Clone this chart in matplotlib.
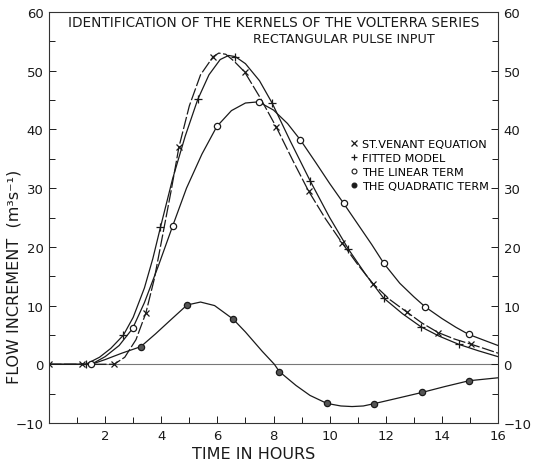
import matplotlib
matplotlib.use("Agg")
import matplotlib.pyplot as plt
from matplotlib.lines import Line2D
from matplotlib.ticker import MultipleLocator

# ---- marker data ----
sv_t = [0, 1.16, 2.32, 3.45, 4.63, 5.85, 6.97, 8.1, 9.25, 10.44, 11.55, 12.75, 13.87, 15.05]
sv_v = [0, 0, 0, 8.7, 37.0, 52.4, 49.8, 40.4, 29.5, 20.7, 13.7, 8.9, 5.4, 3.4]
fm_t = [1.31, 2.65, 3.97, 5.30, 6.64, 7.95, 9.30, 10.67, 11.92, 13.25, 14.6]
fm_v = [0, 4.95, 23.3, 45.1, 52.4, 44.5, 31.3, 19.6, 11.3, 6.4, 3.4]
lin_t = [1.51, 2.98, 4.41, 5.98, 7.47, 8.96, 10.50, 11.93, 13.40, 14.95]
lin_v = [0, 6.1, 23.6, 40.5, 44.7, 38.2, 27.4, 17.2, 9.8, 5.1]
q_t = [3.27, 4.92, 6.56, 8.21, 9.90, 11.59, 13.29, 14.97]
q_v = [3.0, 10.1, 7.7, -1.25, -6.66, -6.7, -4.8, -2.8]

# ---- curve traces ----
sv_ct = [0, 2.32, 2.7, 3.1, 3.45, 3.75, 4.05, 4.35, 4.63, 5.0, 5.4, 5.85, 6.05, 6.3, 6.6,
         6.97, 7.5, 8.1, 8.7, 9.25, 9.85, 10.44, 11.0, 11.55, 12.15, 12.75, 13.3, 13.87,
         14.45, 15.05, 15.5, 16]
sv_cv = [0, 0, 1.2, 4.2, 8.7, 14.5, 22.0, 29.5, 37.0, 44.0, 49.3, 52.4, 53.0, 52.8, 51.6,
         49.8, 45.6, 40.4, 34.6, 29.5, 24.8, 20.7, 17.0, 13.7, 11.0, 8.9, 7.0, 5.4,
         4.3, 3.4, 2.7, 1.9]
fm_ct = [0, 1.31, 1.8, 2.2, 2.65, 3.0, 3.4, 3.7, 3.97, 4.4, 4.85, 5.3, 5.7, 6.1, 6.4, 6.64,
         7.0, 7.5, 7.95, 8.6, 9.3, 10.0, 10.67, 11.3, 11.92, 12.6, 13.25, 13.9, 14.6, 15.3, 16]
fm_cv = [0, 0, 1.2, 2.7, 4.95, 8.0, 13.0, 18.0, 23.3, 31.5, 38.8, 45.1, 49.3, 51.9, 52.6, 52.4,
         51.2, 48.3, 44.5, 38.0, 31.3, 25.0, 19.6, 15.2, 11.3, 8.6, 6.4, 4.8, 3.4, 2.3, 1.3]
lin_ct = [0, 1.51, 2.0, 2.5, 2.98, 3.4, 3.9, 4.41, 4.9, 5.45, 5.98, 6.5, 7.0, 7.47, 8.0, 8.5,
          8.96, 9.5, 10.0, 10.5, 11.0, 11.5, 11.93, 12.5, 13.0, 13.4, 14.0, 14.5, 14.95, 15.5, 16]
lin_cv = [0, 0, 1.3, 3.2, 6.1, 10.5, 16.8, 23.6, 30.0, 35.8, 40.5, 43.2, 44.5, 44.7, 43.3, 41.0,
          38.2, 34.4, 30.8, 27.4, 23.9, 20.4, 17.2, 13.8, 11.5, 9.8, 7.8, 6.3, 5.1, 4.1, 3.2]
q_ct = [1.51, 2.0, 2.6, 3.27, 3.8, 4.3, 4.92, 5.4, 5.9, 6.56, 7.0, 7.6, 8.03, 8.21, 8.8, 9.3,
        9.9, 10.4, 10.8, 11.2, 11.59, 12.4, 13.29, 14.1, 14.97, 16]
q_cv = [0, 0.8, 1.9, 3.0, 5.2, 7.4, 10.1, 10.6, 10.0, 7.7, 5.5, 2.2, 0, -1.25, -3.6, -5.3,
        -6.66, -7.1, -7.2, -7.1, -6.7, -5.8, -4.8, -3.8, -2.8, -2.3]

x_ticks = [2, 4, 6, 8, 10, 12, 14, 16]
y_ticks = [-10, 0, 10, 20, 30, 40, 50, 60]

title1 = "IDENTIFICATION OF THE KERNELS OF THE VOLTERRA SERIES"
title2 = "RECTANGULAR PULSE INPUT"
legend_labels = ["ST.VENANT EQUATION", "FITTED MODEL", "THE LINEAR TERM", "THE QUADRATIC TERM"]

plt.rcParams['font.family'] = ['DejaVu Sans']
fig = plt.figure(figsize=(5.41, 4.64), dpi=100)
ax = fig.add_axes([49/541, 1-424/464, 449/541, 411/464])

ink = "#1a1a1a"
ax.axhline(0, color="#777777", lw=0.8, zorder=1)

ax.plot(sv_ct, sv_cv, color=ink, lw=0.9, ls=(0, (10, 2)))
ax.plot(fm_ct, fm_cv, color=ink, lw=0.9)
ax.plot(lin_ct, lin_cv, color=ink, lw=0.9)
ax.plot(q_ct, q_cv, color=ink, lw=0.9)

ax.plot(sv_t, sv_v, ls="none", marker="x", ms=4, mew=0.9, color=ink)
ax.plot(fm_t, fm_v, ls="none", marker="+", ms=6, mew=0.9, color=ink)
ax.plot(lin_t, lin_v, ls="none", marker="o", ms=4.5, mew=0.9, mfc="white", mec=ink)
ax.plot(q_t, q_v, ls="none", marker="o", ms=4.5, mew=0.9, mfc="#555555", mec=ink)

ax.set_xlim(0, 16)
ax.set_ylim(-10, 60)
ax.set_xticks(x_ticks)
ax.set_yticks(y_ticks)
ax.xaxis.set_minor_locator(MultipleLocator(1))
ax.yaxis.set_minor_locator(MultipleLocator(5))
ax.tick_params(which="both", direction="in", top=False, right=True, labelright=True,
               labelsize=9.5, colors=ink, pad=4)
ax.tick_params(which="major", length=5, width=0.7)
ax.tick_params(which="minor", length=4, width=0.7)
for s in ax.spines.values():
    s.set_linewidth(0.8)
    s.set_color("#333333")

ax.text(0.5, (424-23)/411, title1, transform=ax.transAxes, ha="center", va="center",
        fontsize=9.8, color=ink)
ax.text((253-49)/449, (424-40)/411, title2, transform=ax.transAxes, ha="left", va="center",
        fontsize=9.2, color=ink)

handles = [
    Line2D([], [], ls="none", marker="x", ms=4, mew=0.9, color=ink),
    Line2D([], [], ls="none", marker="+", ms=5, mew=0.9, color=ink),
    Line2D([], [], ls="none", marker="o", ms=3.5, mew=0.8, mfc="white", mec=ink),
    Line2D([], [], ls="none", marker="o", ms=3.5, mew=0.8, mfc=ink, mec=ink),
]
ax.legend(handles, legend_labels, loc="upper left", bbox_to_anchor=(0.672, 0.69),
          frameon=False, fontsize=8.1, handlelength=0.6, handletextpad=0.4,
          labelspacing=0.33, borderaxespad=0, borderpad=0)

fig.text(254/541, 1-455/464, "TIME IN HOURS", ha="center", va="center", fontsize=11.5, color=ink)
fig.text(14/541, 1-277/464, "FLOW INCREMENT  (m³s⁻¹)", ha="center", va="center",
         rotation=90, fontsize=11.5, color=ink)

fig.savefig("out.png", dpi=100)
